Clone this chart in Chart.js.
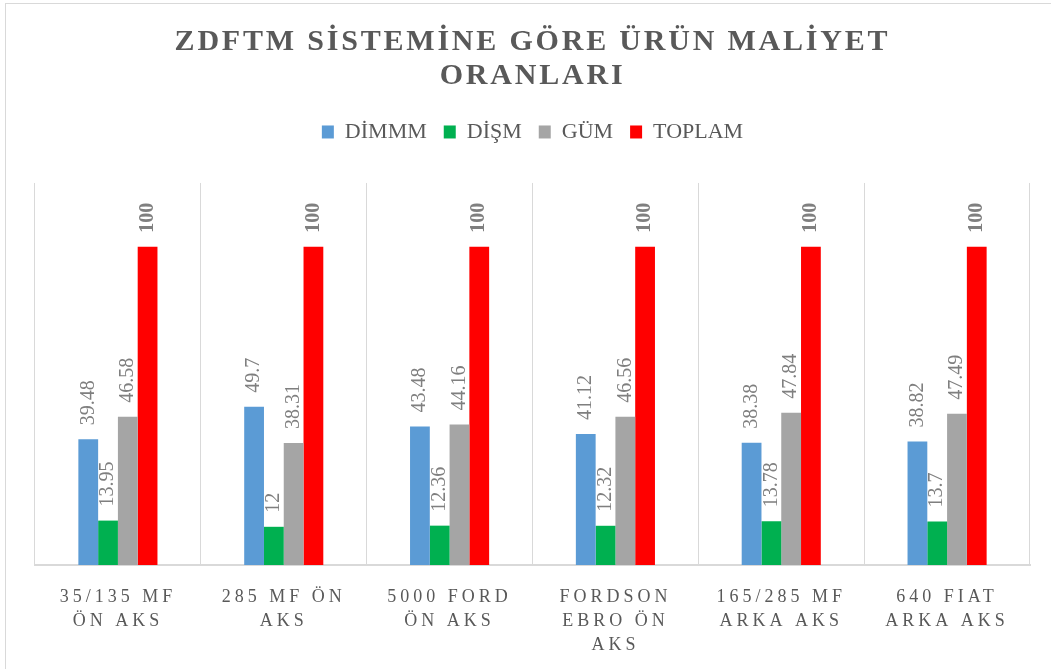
<!DOCTYPE html>
<html>
<head>
<meta charset="utf-8">
<script src="https://cdn.jsdelivr.net/npm/chart.js@4.4.1/dist/chart.umd.min.js"></script>
<style>
	html, body { margin: 0; padding: 0; background: #fff; }
	#wrap {
		position: absolute; left: 5px; top: 3px;
		width: 1045px; height: 665px;
		border-left: 1px solid #d9d9d9; border-top: 1px solid #d9d9d9;
	}
	canvas { display: block; }
</style>
</head>
<body>
<div id="wrap"><canvas id="chart" width="1045" height="665"></canvas></div>
<script>
	'use strict';

	var categories = [
		['35/135 MF', 'ÖN AKS'],
		['285 MF ÖN', 'AKS'],
		['5000 FORD', 'ÖN AKS'],
		['FORDSON', 'EBRO ÖN', 'AKS'],
		['165/285 MF', 'ARKA AKS'],
		['640 FIAT', 'ARKA AKS']
	];
	var seriesNames = ['DİMMM', 'DİŞM', 'GÜM', 'TOPLAM'];
	var dimmm = [39.48, 49.7, 43.48, 41.12, 38.38, 38.82];
	var dism = [13.95, 12, 12.36, 12.32, 13.78, 13.7];
	var gum = [46.58, 38.31, 44.16, 46.56, 47.84, 47.49];
	var toplam = [100, 100, 100, 100, 100, 100];
	var colors = ['#5b9bd5', '#00b050', '#a5a5a5', '#ff0000'];

	var serif = '"Liberation Serif", "Times New Roman", serif';

	/**
	 * Run a drawing method with a letter spacing set on the context
	 */
	function withSpacing(obj, method, ctx, spacing) {
		var orig = obj[method];
		obj[method] = function () {
			var old = ctx.letterSpacing;
			ctx.letterSpacing = spacing;
			orig.apply(this, arguments);
			ctx.letterSpacing = old || '0px';
		};
	}

	var spacingPlugin = {
		id: 'spacing',
		afterLayout: function (chart) {
			if (chart.$spaced) {
				return;
			}
			chart.$spaced = true;
			withSpacing(chart.titleBlock, 'draw', chart.ctx, '2.8px');
			withSpacing(chart.scales.x, 'drawLabels', chart.ctx, '4px');
		}
	};

	var legendGapPlugin = {
		id: 'legendGap',
		beforeInit: function (chart) {
			var fit = chart.legend.fit;
			chart.legend.fit = function () {
				fit.call(this);
				this.height = 79;
			};
		}
	};

	var valueLabels = {
		id: 'valueLabels',
		afterDatasetsDraw: function (chart) {
			var ctx = chart.ctx;
			chart.data.datasets.forEach(function (ds, i) {
				var meta = chart.getDatasetMeta(i);
				var bold = i === 3;
				meta.data.forEach(function (bar, j) {
					ctx.save();
					ctx.translate(bar.x, bar.y - 14);
					ctx.rotate(-Math.PI / 2);
					ctx.font = (bold ? 'bold ' : '') + '20px ' + serif;
					ctx.fillStyle = '#7f7f7f';
					ctx.textAlign = 'left';
					ctx.textBaseline = 'middle';
					ctx.fillText(String(ds.data[j]), 0, 0);
					ctx.restore();
				});
			});
		}
	};

	var datasets = [dimmm, dism, gum, toplam].map(function (values, i) {
		return {
			label: seriesNames[i],
			data: values,
			backgroundColor: colors[i],
			borderWidth: 0,
			barPercentage: 1,
			categoryPercentage: 0.477
		};
	});

	new Chart(document.getElementById('chart'), {
		type: 'bar',
		data: {
			labels: categories,
			datasets: datasets
		},
		plugins: [spacingPlugin, legendGapPlugin, valueLabels],
		options: {
			responsive: false,
			animation: false,
			layout: {
				padding: { left: 29, right: 21, top: 0, bottom: 0 }
			},
			plugins: {
				title: {
					display: true,
					text: ['ZDFTM SİSTEMİNE GÖRE ÜRÜN MALİYET', 'ORANLARI'],
					color: '#595959',
					font: { family: serif, size: 30, weight: 'bold', lineHeight: 1.133 },
					padding: { top: 21, bottom: 11 }
				},
				legend: {
					display: true,
					labels: {
						color: '#595959',
						font: { family: serif, size: 22 },
						boxWidth: 12,
						boxHeight: 13,
						padding: 17
					}
				},
				tooltip: { enabled: false }
			},
			scales: {
				x: {
					grid: {
						color: '#d9d9d9',
						lineWidth: 1,
						drawTicks: false
					},
					border: { color: '#d9d9d9', width: 2 },
					ticks: {
						color: '#595959',
						font: { family: serif, size: 18, lineHeight: 1.33 },
						padding: 20,
						maxRotation: 0,
						autoSkip: false
					},
					afterFit: function (scale) {
						scale.height = 104;
					}
				},
				y: {
					display: false,
					min: 0,
					max: 120
				}
			}
		}
	});
</script>
</body>
</html>
